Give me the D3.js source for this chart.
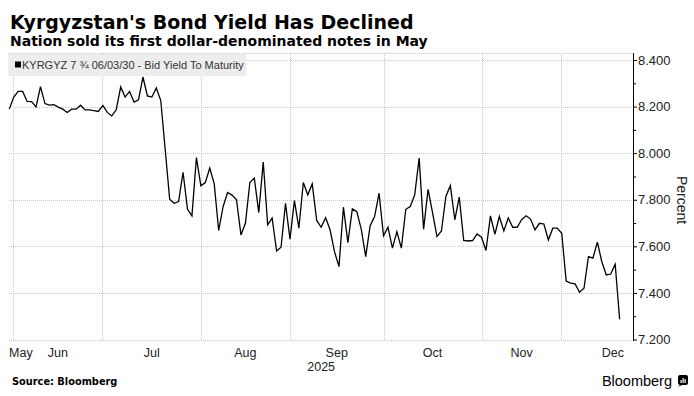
<!DOCTYPE html>
<html>
<head>
<meta charset="utf-8">
<script src="https://cdn.jsdelivr.net/npm/d3@7"></script>
<style>
  body { margin: 0; background: #fff; }
  svg { display: block; font-family: "Liberation Sans", Arial, sans-serif; }
</style>
</head>
<body>
<div id="chart"></div>
<script>
// Bid yield, one slot per trading day (slot 35 has no quote)
const yields = [
  8.189, 8.241, 8.265, 8.265, 8.222, 8.221, 8.199, 8.286, 8.213, 8.206,
  8.208, 8.198, 8.189, 8.175, 8.189, 8.189, 8.206, 8.186, 8.186, 8.183,
  8.179, 8.205, 8.175, 8.160, 8.186, 8.284, 8.241, 8.265, 8.219, 8.229,
  8.327, 8.246, 8.241, 8.280, 8.226, null, 7.802, 7.785, 7.792, 7.918,
  7.759, 7.731, 7.981, 7.860, 7.874, 7.936, 7.868, 7.668, 7.771, 7.831,
  7.820, 7.800, 7.649, 7.699, 7.874, 7.893, 7.745, 7.962, 7.692, 7.721,
  7.580, 7.596, 7.785, 7.631, 7.796, 7.678, 7.874, 7.821, 7.868, 7.711,
  7.682, 7.723, 7.671, 7.577, 7.513, 7.768, 7.616, 7.761, 7.749, 7.674,
  7.556, 7.689, 7.728, 7.828, 7.645, 7.682, 7.592, 7.663, 7.592, 7.759,
  7.771, 7.821, 7.979, 7.674, 7.845, 7.745, 7.642, 7.666, 7.814, 7.861,
  7.714, 7.811, 7.625, 7.623, 7.625, 7.653, 7.639, 7.582, 7.731, 7.652,
  7.728, 7.666, 7.722, 7.682, 7.682, 7.714, 7.731, 7.717, 7.671, 7.699,
  7.696, 7.628, 7.678, 7.678, 7.656, 7.451, 7.442, 7.439, 7.403, 7.420,
  7.556, 7.549, 7.618, 7.534, 7.477, 7.481, 7.523, 7.287
];

// month boundaries (in trading-day slots) and month label centres
const monthLines = [0.9, 20.9, 43, 62.9, 84, 106, 123.8];
const monthNames = ["May", "Jun", "Jul", "Aug", "Sep", "Oct", "Nov", "Dec"];
const monthLabelPos = [2.6, 10.9, 32, 53, 73.5, 95, 115, 135.5];

const yTicks = [7.2, 7.4, 7.6, 7.8, 8.0, 8.2, 8.4];
const yMinorTicks = [7.3, 7.5, 7.7, 7.9, 8.1, 8.3];

const width = 694;
const height = 396;
const plot = { left: 9.3, right: 633, top: 53, bottom: 340 };

const svg = d3.select("#chart")
  .append("svg")
  .attr("width", width)
  .attr("height", height)
  .attr("viewBox", `0 0 ${width} ${height}`);

svg.append("rect").attr("width", width).attr("height", height).attr("fill", "#fff");

// scales
const x = d3.scaleLinear().domain([0, 140]).range([plot.left, plot.right]);
const y = d3.scaleLinear().domain([7.2, 8.4]).range([339.5, 60]);

// gridlines
const grid = svg.append("g")
  .attr("stroke", "#c8c8c8")
  .attr("stroke-width", 1)
  .attr("stroke-dasharray", "1,1")
  .attr("shape-rendering", "crispEdges");

grid.selectAll(".hgrid")
  .data(yTicks)
  .enter()
  .append("line")
  .attr("x1", plot.left)
  .attr("x2", plot.right)
  .attr("y1", (d) => Math.round(y(d)) + 0.5)
  .attr("y2", (d) => Math.round(y(d)) + 0.5);

grid.append("line")
  .attr("x1", plot.left)
  .attr("x2", plot.right)
  .attr("y1", plot.top + 0.5)
  .attr("y2", plot.top + 0.5);

grid.selectAll(".vgrid")
  .data(monthLines)
  .enter()
  .append("line")
  .attr("x1", (d) => Math.round(x(d)) + 0.5)
  .attr("x2", (d) => Math.round(x(d)) + 0.5)
  .attr("y1", plot.top)
  .attr("y2", plot.bottom);

// legend box
svg.append("rect")
  .attr("x", 8.3)
  .attr("y", 54)
  .attr("width", 238)
  .attr("height", 22)
  .attr("fill", "#ededed");

svg.append("rect")
  .attr("x", 15)
  .attr("y", 61.5)
  .attr("width", 6)
  .attr("height", 6)
  .attr("fill", "#000");

svg.append("text")
  .attr("x", 22)
  .attr("y", 69)
  .attr("fill", "#333")
  .style("font-size", "11px")
  .text("KYRGYZ 7 ¾ 06/03/30 - Bid Yield To Maturity");

// line
const points = yields
  .map((v, i) => ({ i, v }))
  .filter((d) => d.v !== null);

const line = d3.line()
  .x((d) => x(d.i))
  .y((d) => y(d.v));

svg.append("path")
  .datum(points)
  .attr("fill", "none")
  .attr("stroke", "#000")
  .attr("stroke-width", 1.3)
  .attr("stroke-linejoin", "miter")
  .attr("d", line);

// right axis
const yAxis = d3.axisRight(y)
  .tickValues(yTicks)
  .tickSize(4)
  .tickPadding(1)
  .tickFormat(d3.format(".3f"));

const yAxisG = svg.append("g")
  .attr("transform", `translate(${plot.right},0)`)
  .call(yAxis);

yAxisG.select(".domain").remove();
yAxisG.selectAll("line").attr("stroke", "#000");
yAxisG.selectAll("text")
  .attr("fill", "#222")
  .style("font-size", "13px")
  .style("font-family", "Liberation Sans, Arial, sans-serif");

const minorAxisG = svg.append("g")
  .attr("transform", `translate(${plot.right},0)`)
  .call(d3.axisRight(y).tickValues(yMinorTicks).tickSize(3).tickFormat(""));

minorAxisG.select(".domain").remove();
minorAxisG.selectAll("line").attr("stroke", "#000");

svg.append("line")
  .attr("x1", plot.right + 0.5)
  .attr("x2", plot.right + 0.5)
  .attr("y1", plot.top)
  .attr("y2", plot.bottom + 1)
  .attr("stroke", "#000");

svg.append("text")
  .attr("transform", `translate(677, 200) rotate(90)`)
  .attr("text-anchor", "middle")
  .attr("fill", "#222")
  .style("font-size", "14px")
  .text("Percent");

// x labels
svg.selectAll(".month")
  .data(monthNames)
  .enter()
  .append("text")
  .attr("x", (d, i) => x(monthLabelPos[i]))
  .attr("y", 357)
  .attr("text-anchor", "middle")
  .attr("fill", "#222")
  .style("font-size", "12.5px")
  .text((d) => d);

svg.append("text")
  .attr("x", (plot.left + plot.right) / 2)
  .attr("y", 371)
  .attr("text-anchor", "middle")
  .attr("fill", "#222")
  .style("font-size", "12.5px")
  .text("2025");

// titles
svg.append("text")
  .attr("x", 10)
  .attr("y", 29)
  .attr("fill", "#000")
  .style("font-family", "DejaVu Sans, sans-serif")
  .style("font-weight", "bold")
  .style("font-size", "19px")
  .text("Kyrgyzstan's Bond Yield Has Declined");

svg.append("text")
  .attr("x", 10)
  .attr("y", 46)
  .attr("fill", "#000")
  .style("font-family", "DejaVu Sans, sans-serif")
  .style("font-weight", "bold")
  .style("font-size", "14px")
  .text("Nation sold its first dollar-denominated notes in May");

// footer
svg.append("text")
  .attr("x", 12)
  .attr("y", 385)
  .attr("fill", "#000")
  .style("font-family", "DejaVu Sans, sans-serif")
  .style("font-weight", "bold")
  .style("font-size", "9.8px")
  .text("Source: Bloomberg");

svg.append("text")
  .attr("x", 672)
  .attr("y", 386)
  .attr("text-anchor", "end")
  .attr("fill", "#000")
  .style("font-size", "14.5px")
  .style("font-weight", "500")
  .text("Bloomberg");

const logo = svg.append("g").attr("transform", "translate(678,375)");
logo.append("rect")
  .attr("width", 10)
  .attr("height", 10)
  .attr("rx", 2)
  .attr("fill", "#000");
logo.append("path")
  .attr("d", "M2 10 L0 12 L4 10 Z")
  .attr("fill", "#000");
logo.selectAll(".bar")
  .data([[2.5, 5, 3], [4.5, 3, 5], [6.5, 4, 4]])
  .enter()
  .append("rect")
  .attr("x", (d) => d[0])
  .attr("y", (d) => d[1])
  .attr("width", 1.2)
  .attr("height", (d) => d[2])
  .attr("fill", "#fff");
</script>
</body>
</html>
